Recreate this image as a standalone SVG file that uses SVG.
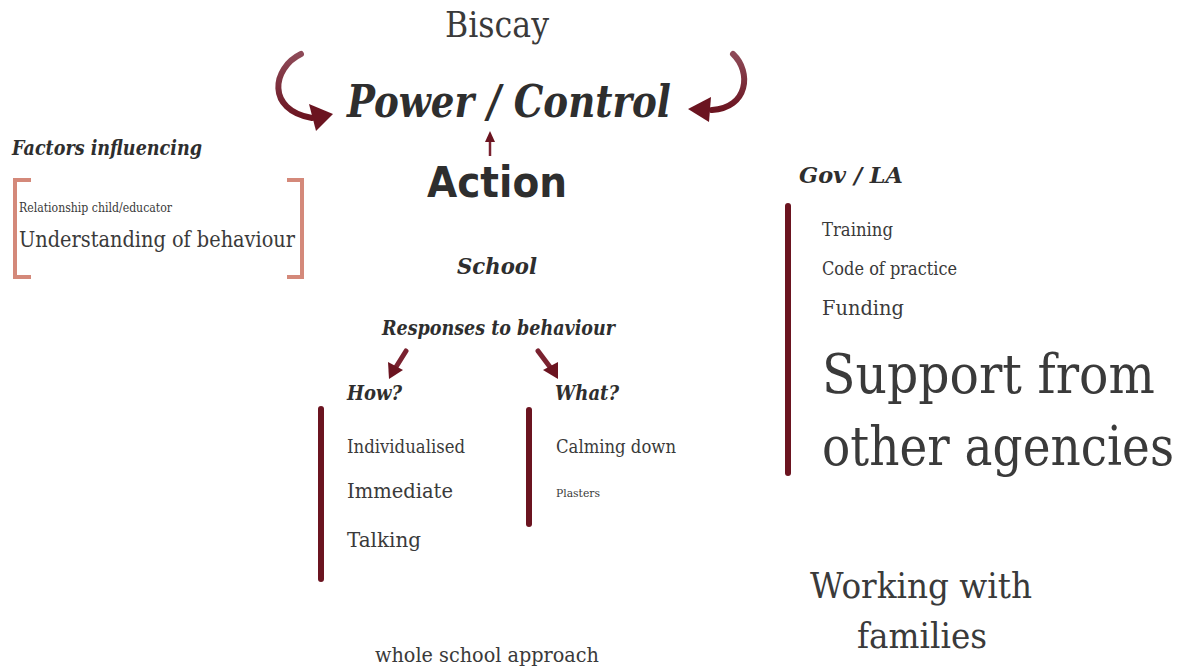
<svg xmlns="http://www.w3.org/2000/svg" width="1200" height="670" viewBox="0 0 1200 670">
<defs>
<style>
.t{font-family:"DejaVu Serif","Liberation Serif",serif;fill:#3a3a3a}
.h{font-family:"DejaVu Serif","Liberation Serif",serif;font-style:italic;font-weight:bold;fill:#2e2e2e}
.bar{stroke:#6b1420;stroke-width:6;stroke-linecap:round;fill:none}
.br{stroke:#d4897a;stroke-width:4;fill:none}
.ar{stroke:#7a2230;fill:none;stroke-width:5;stroke-linecap:round}
.ah{fill:#6b1420}
</style>
<linearGradient id="g" x1="0" y1="0" x2="0" y2="1">
<stop offset="0" stop-color="#8e4a58"/>
<stop offset="1" stop-color="#6b1420"/>
</linearGradient>
</defs>
<rect width="1200" height="670" fill="#ffffff"/>

<g id="connectors">
<path d="M301,54 C272,68 266,110 312,118" stroke="url(#g)" stroke-width="6" fill="none" stroke-linecap="round"/>
<polygon class="ah" points="333,114 309,104 316,131"/>
<path d="M733,54 C752,72 748,108 712,110" stroke="url(#g)" stroke-width="6" fill="none" stroke-linecap="round"/>
<polygon class="ah" points="688,109 711,97 709,122"/>
<line x1="490" y1="156" x2="490" y2="140" stroke="#7a2230" stroke-width="2.5"/>
<polygon class="ah" points="490,131 485,142 495,142"/>
<line class="ar" x1="406" y1="351" x2="396" y2="367"/>
<polygon class="ah" points="389,379 388,362 403,370"/>
<line class="ar" x1="538" y1="351" x2="550" y2="367"/>
<polygon class="ah" points="558,379 543,370 558,362"/>
</g>

<g id="biscay"><text class="t" x="497" y="37" font-size="35" text-anchor="middle" textLength="104" lengthAdjust="spacingAndGlyphs">Biscay</text></g>
<g id="power"><text class="h" x="347" y="117" font-size="44" textLength="324" lengthAdjust="spacingAndGlyphs">Power / Control</text></g>
<g id="action"><text x="427" y="197" font-family="'DejaVu Sans',sans-serif" font-weight="bold" font-size="43" fill="#2e2e2e" textLength="140" lengthAdjust="spacingAndGlyphs">Action</text></g>

<g id="factors">
<text class="h" x="12" y="155" font-size="21" textLength="190" lengthAdjust="spacingAndGlyphs">Factors influencing</text>
<path class="br" d="M31,180 H15 V277 H31"/>
<path class="br" d="M287,180 H302 V277 H287"/>
<text class="t" x="19" y="212" font-size="12" textLength="153" lengthAdjust="spacingAndGlyphs">Relationship child/educator</text>
<text class="t" x="19" y="247" font-size="22" textLength="276" lengthAdjust="spacingAndGlyphs">Understanding of behaviour</text>
</g>

<g id="school"><text class="h" x="457" y="274" font-size="23" textLength="80" lengthAdjust="spacingAndGlyphs">School</text></g>
<g id="responses"><text class="h" x="382" y="335" font-size="20" textLength="233" lengthAdjust="spacingAndGlyphs">Responses to behaviour</text></g>

<g id="how">
<text class="h" x="347" y="400" font-size="21" textLength="55" lengthAdjust="spacingAndGlyphs">How?</text>
<line class="bar" x1="321" y1="409" x2="321" y2="579"/>
<text class="t" x="347" y="453" font-size="18" textLength="118" lengthAdjust="spacingAndGlyphs">Individualised</text>
<text class="t" x="347" y="498" font-size="21" textLength="106" lengthAdjust="spacingAndGlyphs">Immediate</text>
<text class="t" x="347" y="547" font-size="21" textLength="74" lengthAdjust="spacingAndGlyphs">Talking</text>
</g>

<g id="what">
<text class="h" x="555" y="400" font-size="21" textLength="64" lengthAdjust="spacingAndGlyphs">What?</text>
<line class="bar" x1="529" y1="410" x2="529" y2="524"/>
<text class="t" x="556" y="453" font-size="18" textLength="120" lengthAdjust="spacingAndGlyphs">Calming down</text>
<text class="t" x="556" y="497" font-size="11" textLength="44" lengthAdjust="spacingAndGlyphs">Plasters</text>
</g>

<g id="gov">
<text class="h" x="799" y="183" font-size="23" textLength="104" lengthAdjust="spacingAndGlyphs">Gov / LA</text>
<line class="bar" x1="788" y1="206" x2="788" y2="473"/>
<text class="t" x="822" y="236" font-size="18" textLength="71" lengthAdjust="spacingAndGlyphs">Training</text>
<text class="t" x="822" y="275" font-size="18" textLength="135" lengthAdjust="spacingAndGlyphs">Code of practice</text>
<text class="t" x="822" y="315" font-size="20" textLength="82" lengthAdjust="spacingAndGlyphs">Funding</text>
<text class="t" transform="translate(822,393) scale(0.8,1)" x="0" y="0" font-size="54" textLength="416" lengthAdjust="spacingAndGlyphs">Support from</text>
<text class="t" transform="translate(822,465) scale(0.8,1)" x="0" y="0" font-size="54" textLength="440" lengthAdjust="spacingAndGlyphs">other agencies</text>
</g>

<g id="families">
<text class="t" x="921" y="598" font-size="36" text-anchor="middle" textLength="222" lengthAdjust="spacingAndGlyphs">Working with</text>
<text class="t" x="922" y="648" font-size="36" text-anchor="middle" textLength="130" lengthAdjust="spacingAndGlyphs">families</text>
</g>

<g id="whole"><text class="t" x="375" y="662" font-size="21" textLength="224" lengthAdjust="spacingAndGlyphs">whole school approach</text></g>
</svg>
